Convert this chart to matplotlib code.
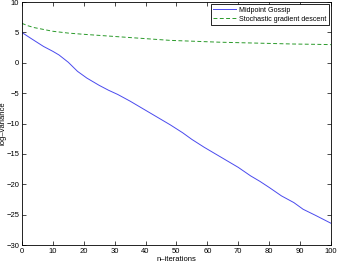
import numpy as np
import matplotlib
matplotlib.use("Agg")
import matplotlib.pyplot as plt

#========================================================
# Values
gossip_x   = [0, 3, 7, 10, 12, 15, 18, 21, 25, 28, 31, 35, 40, 44, 48,
              52, 55, 59, 62, 66, 70, 74, 77, 80, 84, 88, 91, 95, 100]
gossip_var = [5.0, 4.0, 2.7, 1.9, 1.3, 0.1, -1.4, -2.5, -3.7, -4.5, -5.2,
              -6.3, -7.8, -9.0, -10.2, -11.5, -12.6, -13.9, -14.8, -16.0,
              -17.2, -18.6, -19.5, -20.5, -21.9, -23.0, -24.1, -25.1, -26.4]

sgd_x   = [0, 2, 4, 7, 10, 15, 20, 27, 34, 41, 48, 56, 64, 72, 80, 88, 95, 100]
sgd_var = [6.5, 6.1, 5.8, 5.5, 5.2, 4.9, 4.7, 4.45, 4.2, 3.95, 3.7,
           3.55, 3.4, 3.3, 3.2, 3.1, 3.05, 3.0]

xticks = list(range(0, 101, 10))
yticks = list(range(-30, 11, 5))

#========================================================
plt.rcParams['font.family'] = ['Liberation Sans', 'DejaVu Sans']

fig = plt.figure(figsize=(3.37, 2.63), dpi=100)
ax = fig.add_axes([0.065, 0.068, 0.917, 0.924])

ax.plot(gossip_x, gossip_var, color="#4a4aee", lw=0.7, label="Midpoint Gossip")
ax.plot(sgd_x, sgd_var, color="#2a9a2a", lw=0.7, ls=(0, (4, 2.5)),
        label="Stochastic gradient descent")

ax.set_xlim(0, 100)
ax.set_ylim(-30, 10)
ax.set_xticks(xticks)
ax.set_yticks(yticks)
ax.tick_params(direction="in", length=3, width=0.5, labelsize=5.5,
               top=True, right=True, pad=2)
for s in ax.spines.values():
    s.set_linewidth(0.6)

ax.set_xlabel("n\u2013iterations", fontsize=5.5, labelpad=1)
ax.set_ylabel("log\u2013variance", fontsize=5.5, labelpad=0)

leg = ax.legend(loc="upper right", fontsize=5.1, fancybox=False,
                framealpha=1, borderaxespad=0.3, handlelength=3.2,
                borderpad=0.35, labelspacing=0.3, handletextpad=0.4)
leg.get_frame().set_edgecolor("black")
leg.get_frame().set_linewidth(0.6)

plt.savefig("out.png", dpi=100)
